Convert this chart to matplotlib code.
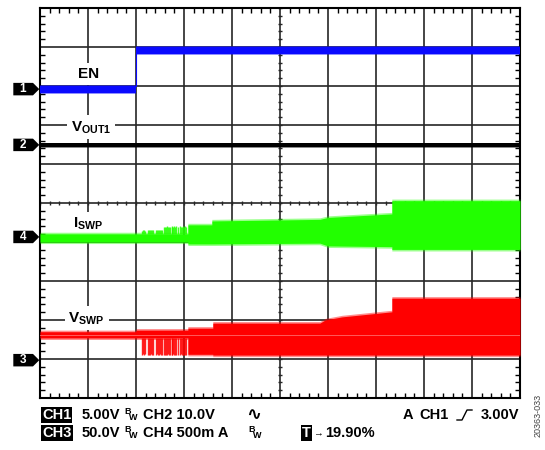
import matplotlib.pyplot as plt
from matplotlib.patches import Polygon
from matplotlib.lines import Line2D
from matplotlib.ticker import MultipleLocator

plt.rcParams['font.family'] = ['Liberation Sans', 'DejaVu Sans']
plt.rcParams['font.weight'] = 'bold'
plt.rcParams['mathtext.fontset'] = 'custom'
plt.rcParams['mathtext.rm'] = 'Liberation Sans:bold'
plt.rcParams['mathtext.bf'] = 'Liberation Sans:bold'
plt.rcParams['mathtext.it'] = 'Liberation Sans:bold'

# ---- trace envelopes, in screen divisions (x 0..10, y -5..+5) ----
ch1_x = [0.0, 2.01, 2.01, 10.0]
ch1_top = [3.00, 3.00, 3.99, 3.99]
ch1_bot = [2.82, 2.82, 3.82, 3.82]

ch2_x = [0.0, 10.0]
ch2_top = [1.53, 1.53]
ch2_bot = [1.44, 1.44]

ch4_x = [0.0, 3.08, 3.08, 3.58, 3.58, 5.83, 6.00, 7.33, 7.33, 10.0]
ch4_top = [-0.79, -0.79, -0.56, -0.56, -0.46, -0.42, -0.37, -0.28, 0.06, 0.06]
ch4_bot = [-1.00, -1.00, -1.05, -1.05, -1.05, -1.03, -1.10, -1.12, -1.19, -1.19]

ch3_x = [0.0, 2.0, 2.0, 3.08, 3.08, 3.60, 3.60, 5.83, 5.94, 6.29, 7.33, 7.33, 10.0]
ch3_top = [-3.30, -3.30, -3.26, -3.26, -3.21, -3.21, -3.08, -3.08, -3.00, -2.92, -2.79, -2.44, -2.44]
ch3_bot = [-3.46, -3.46, -3.46, -3.46, -3.88, -3.88, -3.90, -3.90, -3.90, -3.90, -3.90, -3.90, -3.90]
ch3_mid = -3.38

# start-up bursts between 2 and 3 div
burst_x = [2.12, 2.14, 2.16, 2.18, 2.25, 2.27, 2.29, 2.31, 2.33, 2.35,
           2.42, 2.44, 2.46, 2.48, 2.50, 2.52, 2.54, 2.58, 2.60, 2.62,
           2.64, 2.66, 2.68, 2.70, 2.74, 2.76, 2.78, 2.80, 2.82, 2.84,
           2.87, 2.92, 2.94, 2.96, 2.98, 3.00, 3.02, 3.05]
isw_burst_top = [-0.72, -0.70, -0.69, -0.71, -0.70, -0.68, -0.69, -0.70, -0.69, -0.70,
                 -0.69, -0.68, -0.70, -0.69, -0.68, -0.70, -0.68, -0.62, -0.61, -0.62,
                 -0.60, -0.61, -0.62, -0.61, -0.60, -0.61, -0.62, -0.60, -0.61, -0.60,
                 -0.61, -0.60, -0.61, -0.62, -0.60, -0.61, -0.60, -0.61]
vsw_burst_bot = [-3.90, -3.88, -3.90, -3.86, -3.90, -3.89, -3.90, -3.88, -3.90, -3.89,
                 -3.90, -3.88, -3.90, -3.90, -3.87, -3.90, -3.89, -3.90, -3.90, -3.89,
                 -3.90, -3.88, -3.90, -3.90, -3.89, -3.90, -3.88, -3.90, -3.90, -3.89,
                 -3.90, -3.90, -3.88, -3.90, -3.90, -3.89, -3.90, -3.90]

# channel ground markers and trace labels
marker_names = ['1', '2', '4', '3']
marker_levels = [2.92, 1.49, -0.87, -4.03]
label_text = ['EN', r'$\mathbf{V_{OUT1}}$', r'$\mathbf{I_{SWP}}$', r'$\mathbf{V_{SWP}}$']
label_x = [1.01, 1.07, 1.00, 0.97]
label_y = [3.31, 1.94, -0.53, -2.96]

BLUE = '#0a0aff'
GREEN = '#22ff00'
RED = '#ff0000'
GRID = '#262626'

fig = plt.figure(figsize=(5.45, 4.5), dpi=100)
ax = fig.add_axes([40 / 545, 1 - 398 / 450, 480 / 545, 390 / 450])
ax.set_xlim(0, 10)
ax.set_ylim(-5, 5)

# graticule
ax.set_xticks(range(11))
ax.set_yticks(range(-5, 6))
ax.xaxis.set_minor_locator(MultipleLocator(0.2))
ax.yaxis.set_minor_locator(MultipleLocator(0.2))
ax.tick_params(which='major', length=0, labelbottom=False, labelleft=False)
ax.tick_params(which='minor', direction='in', length=3.5, width=1.0, color='black',
               top=True, right=True)
ax.grid(True, which='major', color=GRID, lw=1.2)
ax.set_axisbelow(True)
for s in ax.spines.values():
    s.set_linewidth(1.5)
    s.set_color('black')

minor = [i * 0.2 for i in range(51)]
ax.vlines(minor, -0.055, 0.055, color=GRID, lw=1.0, zorder=1)
ax.hlines([m - 5 for m in minor], 4.955, 5.045, color=GRID, lw=1.0, zorder=1)

# traces: soft edge + solid core
def band(x, top, bot, color, pad):
    ax.fill_between(x, [b - pad for b in bot], [t + pad for t in top], color=color,
                    alpha=0.45, lw=0, zorder=4)
    ax.fill_between(x, bot, top, color=color, lw=0, zorder=5)

band(ch1_x, ch1_top, ch1_bot, BLUE, 0.035)
ax.plot([ch1_x[1], ch1_x[2]], [ch1_top[1], ch1_bot[2]], color=BLUE, lw=0.8, zorder=5)
band(ch2_x, ch2_top, ch2_bot, 'black', 0.02)
band(ch4_x, ch4_top, ch4_bot, GREEN, 0.04)
band(ch3_x, ch3_top, ch3_bot, RED, 0.04)
ax.vlines(burst_x, ch4_top[0], isw_burst_top, color=GREEN, lw=1.0, alpha=0.85, zorder=5)
ax.vlines(burst_x, vsw_burst_bot, ch3_bot[0], color=RED, lw=1.0, alpha=0.85, zorder=5)
ax.plot([ch3_x[0], ch3_x[-1]], [ch3_mid, ch3_mid], color='#ff6a6a', lw=0.6, zorder=6)

# trace labels with white background breaking the grid
for t, x, y in zip(label_text, label_x, label_y):
    ax.text(x, y, t, fontsize=11, fontweight='bold', ha='center', va='center', zorder=3,
            bbox=dict(boxstyle='square,pad=0.25', fc='white', ec='none'))

# channel reference markers on the left
for name, lv in zip(marker_names, marker_levels):
    h = 0.16
    pts = [(-0.556, lv - h), (-0.146, lv - h), (-0.015, lv), (-0.146, lv + h), (-0.556, lv + h)]
    ax.add_patch(Polygon(pts, closed=True, fc='black', ec='none', clip_on=False, zorder=6))
    ax.text(-0.36, lv, name, color='white', fontsize=8.5, fontweight='bold',
            ha='center', va='center', clip_on=False, zorder=7)


def px(x, y):
    return x / 545, 1 - y / 450


FS = 10.5
boxed = dict(boxstyle='square,pad=0.08', fc='black', ec='none')
r1, r2 = 415, 433

fig.text(*px(42, r1), 'CH1', color='white', fontsize=FS, va='center', bbox=boxed)
fig.text(*px(82, r1), '5.00V', fontsize=FS, va='center')
fig.text(*px(124, r1 - 4), 'B', fontsize=6.5, va='center')
fig.text(*px(129, r1 + 3), 'W', fontsize=6.5, va='center')
fig.text(*px(143, r1), 'CH2 10.0V', fontsize=FS, va='center')
fig.text(*px(246, r1), '\u223f', fontsize=13, va='center', family=['DejaVu Sans'])
fig.text(*px(403, r1), 'A', fontsize=FS, va='center')
fig.text(*px(419, r1), 'CH1', fontsize=FS, va='center')
fig.text(*px(519, r1), '3.00V', fontsize=FS, va='center', ha='right')
ex = [457, 462, 467, 472]
ey = [420, 420, 410, 410]
fig.add_artist(Line2D([e / 545 for e in ex], [1 - e / 450 for e in ey],
                      color='black', lw=1.0))

fig.text(*px(42, r2), 'CH3', color='white', fontsize=FS, va='center', bbox=boxed)
fig.text(*px(82, r2), '50.0V', fontsize=FS, va='center')
fig.text(*px(124, r2 - 4), 'B', fontsize=6.5, va='center')
fig.text(*px(129, r2 + 3), 'W', fontsize=6.5, va='center')
fig.text(*px(143, r2), 'CH4 500m A', fontsize=FS, va='center')
fig.text(*px(248, r2 - 4), 'B', fontsize=6.5, va='center')
fig.text(*px(253, r2 + 3), 'W', fontsize=6.5, va='center')
fig.text(*px(302, r2), 'T', color='white', fontsize=FS, va='center', bbox=boxed)
fig.text(*px(313, r2), '\u2192', fontsize=7, va='center')
fig.text(*px(325, r2), '19.90%', fontsize=FS, va='center')

fig.text(*px(538, 415), '20363-033', fontsize=6.5, fontweight='normal', color='#444444',
         rotation=90, ha='center', va='center')

fig.savefig('out.png', dpi=100)
